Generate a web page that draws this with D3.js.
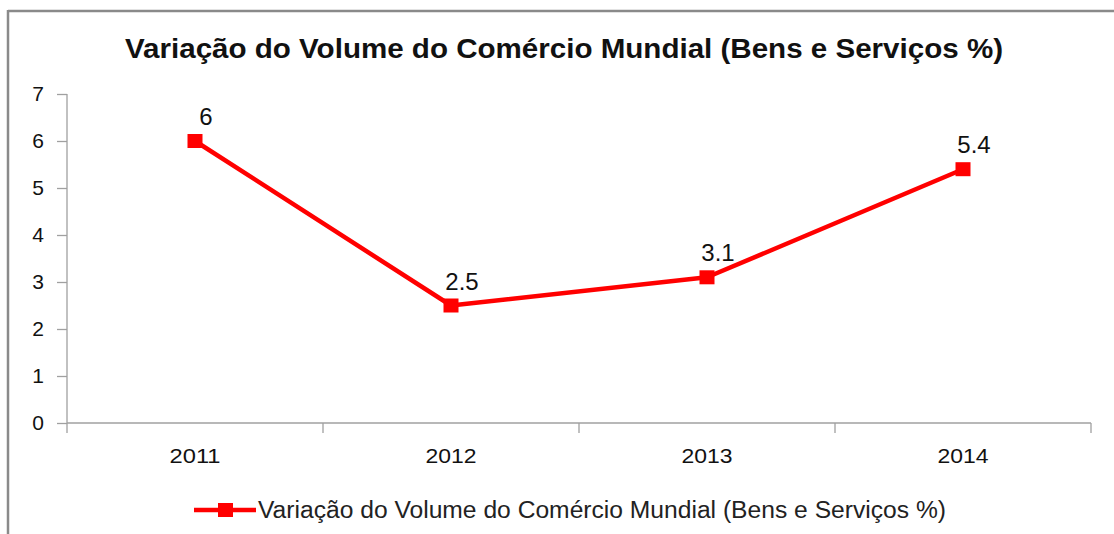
<!DOCTYPE html>
<html><head><meta charset="utf-8">
<script src="https://cdn.jsdelivr.net/npm/d3@7"></script>
<style>body{margin:0;background:#fff}svg{display:block;font-family:"Liberation Sans",Arial,sans-serif}</style>
</head><body><svg id="c" width="1114" height="534"></svg>
<script>
const categories = ["2011", "2012", "2013", "2014"];
const values = [6, 2.5, 3.1, 5.4];
const yTicks = [0, 1, 2, 3, 4, 5, 6, 7];
const seriesName = "Variação do Volume do Comércio Mundial (Bens e Serviços %)";
const titleText = "Variação do Volume do Comércio Mundial (Bens e Serviços %)";

const svg = d3.select("#c");
const red = "#ff0000";
const FF = "Liberation Sans, Arial, sans-serif";

// frame
svg.append("line").attr("x1",8).attr("x2",1114).attr("y1",11).attr("y2",11).attr("stroke","#8a8a8a").attr("stroke-width",2.5);
svg.append("line").attr("x1",8).attr("x2",8).attr("y1",10).attr("y2",534).attr("stroke","#8a8a8a").attr("stroke-width",2.5);

// title
svg.append("text").attr("x",564).attr("y",58).attr("text-anchor","middle")
  .attr("font-size",28).attr("font-weight","bold").attr("fill","#111")
  .attr("textLength",878).attr("lengthAdjust","spacingAndGlyphs").text(titleText);

const x = d3.scaleBand().domain(categories).range([67,1091]);
const y = d3.scaleLinear().domain([0,7]).range([423,94]);

// y axis
const ya = svg.append("g").attr("transform","translate(67,0)")
  .call(d3.axisLeft(y).tickValues(yTicks).tickSize(10).tickPadding(13).tickFormat(d3.format("d")));
ya.attr("font-size",21).attr("font-family",FF);
ya.selectAll("path,line").attr("stroke","#a0a0a0").attr("stroke-width",1.3);
ya.select("path").attr("d","M0,94V423");
ya.selectAll("text").style("font-size","21px").attr("fill","#111");

// x axis
const xa = svg.append("g").attr("transform","translate(0,423)")
  .call(d3.axisBottom(x).tickSize(0).tickPadding(25));
xa.attr("font-size",21).attr("font-family",FF);
xa.select("path").attr("d","M67,0H1091").attr("stroke","#a0a0a0").attr("stroke-width",1.3);
xa.selectAll("text").style("font-size","21px").attr("fill","#111")
  .attr("textLength",51).attr("lengthAdjust","spacingAndGlyphs");
const bounds = categories.map(c=>x(c)).concat([x.range()[1]]);
xa.selectAll(".bt").data(bounds).enter().append("line").attr("class","bt")
  .attr("x1",d=>d).attr("x2",d=>d).attr("y1",0).attr("y2",10).attr("stroke","#a0a0a0").attr("stroke-width",1.3);

const cx = c => x(c) + x.bandwidth()/2;
const line = d3.line().x((d,i)=>cx(categories[i])).y(d=>y(d));
svg.append("path").datum(values).attr("d",line).attr("fill","none").attr("stroke",red).attr("stroke-width",4.5).attr("stroke-linejoin","round");

const ms = 15;
svg.selectAll(".m").data(values).enter().append("rect").attr("class","m")
  .attr("x",(d,i)=>cx(categories[i])-ms/2).attr("y",d=>y(d)-ms/2+0.5)
  .attr("width",ms).attr("height",ms-1).attr("fill",red);

svg.selectAll(".lbl").data(values).enter().append("text").attr("class","lbl")
  .attr("x",(d,i)=>cx(categories[i])+11).attr("y",d=>y(d)-16)
  .attr("text-anchor","middle").attr("font-size",24).attr("fill","#111").text(d=>d);

// legend
const ly = 510;
svg.append("line").attr("x1",194).attr("x2",256).attr("y1",ly).attr("y2",ly).attr("stroke",red).attr("stroke-width",4.5);
svg.append("rect").attr("x",218).attr("y",ly-7).attr("width",15).attr("height",14).attr("fill",red);
svg.append("text").attr("x",258).attr("y",ly+8).attr("font-size",23).attr("fill","#222")
  .attr("textLength",688).attr("lengthAdjust","spacingAndGlyphs").text(seriesName);
</script></body></html>
